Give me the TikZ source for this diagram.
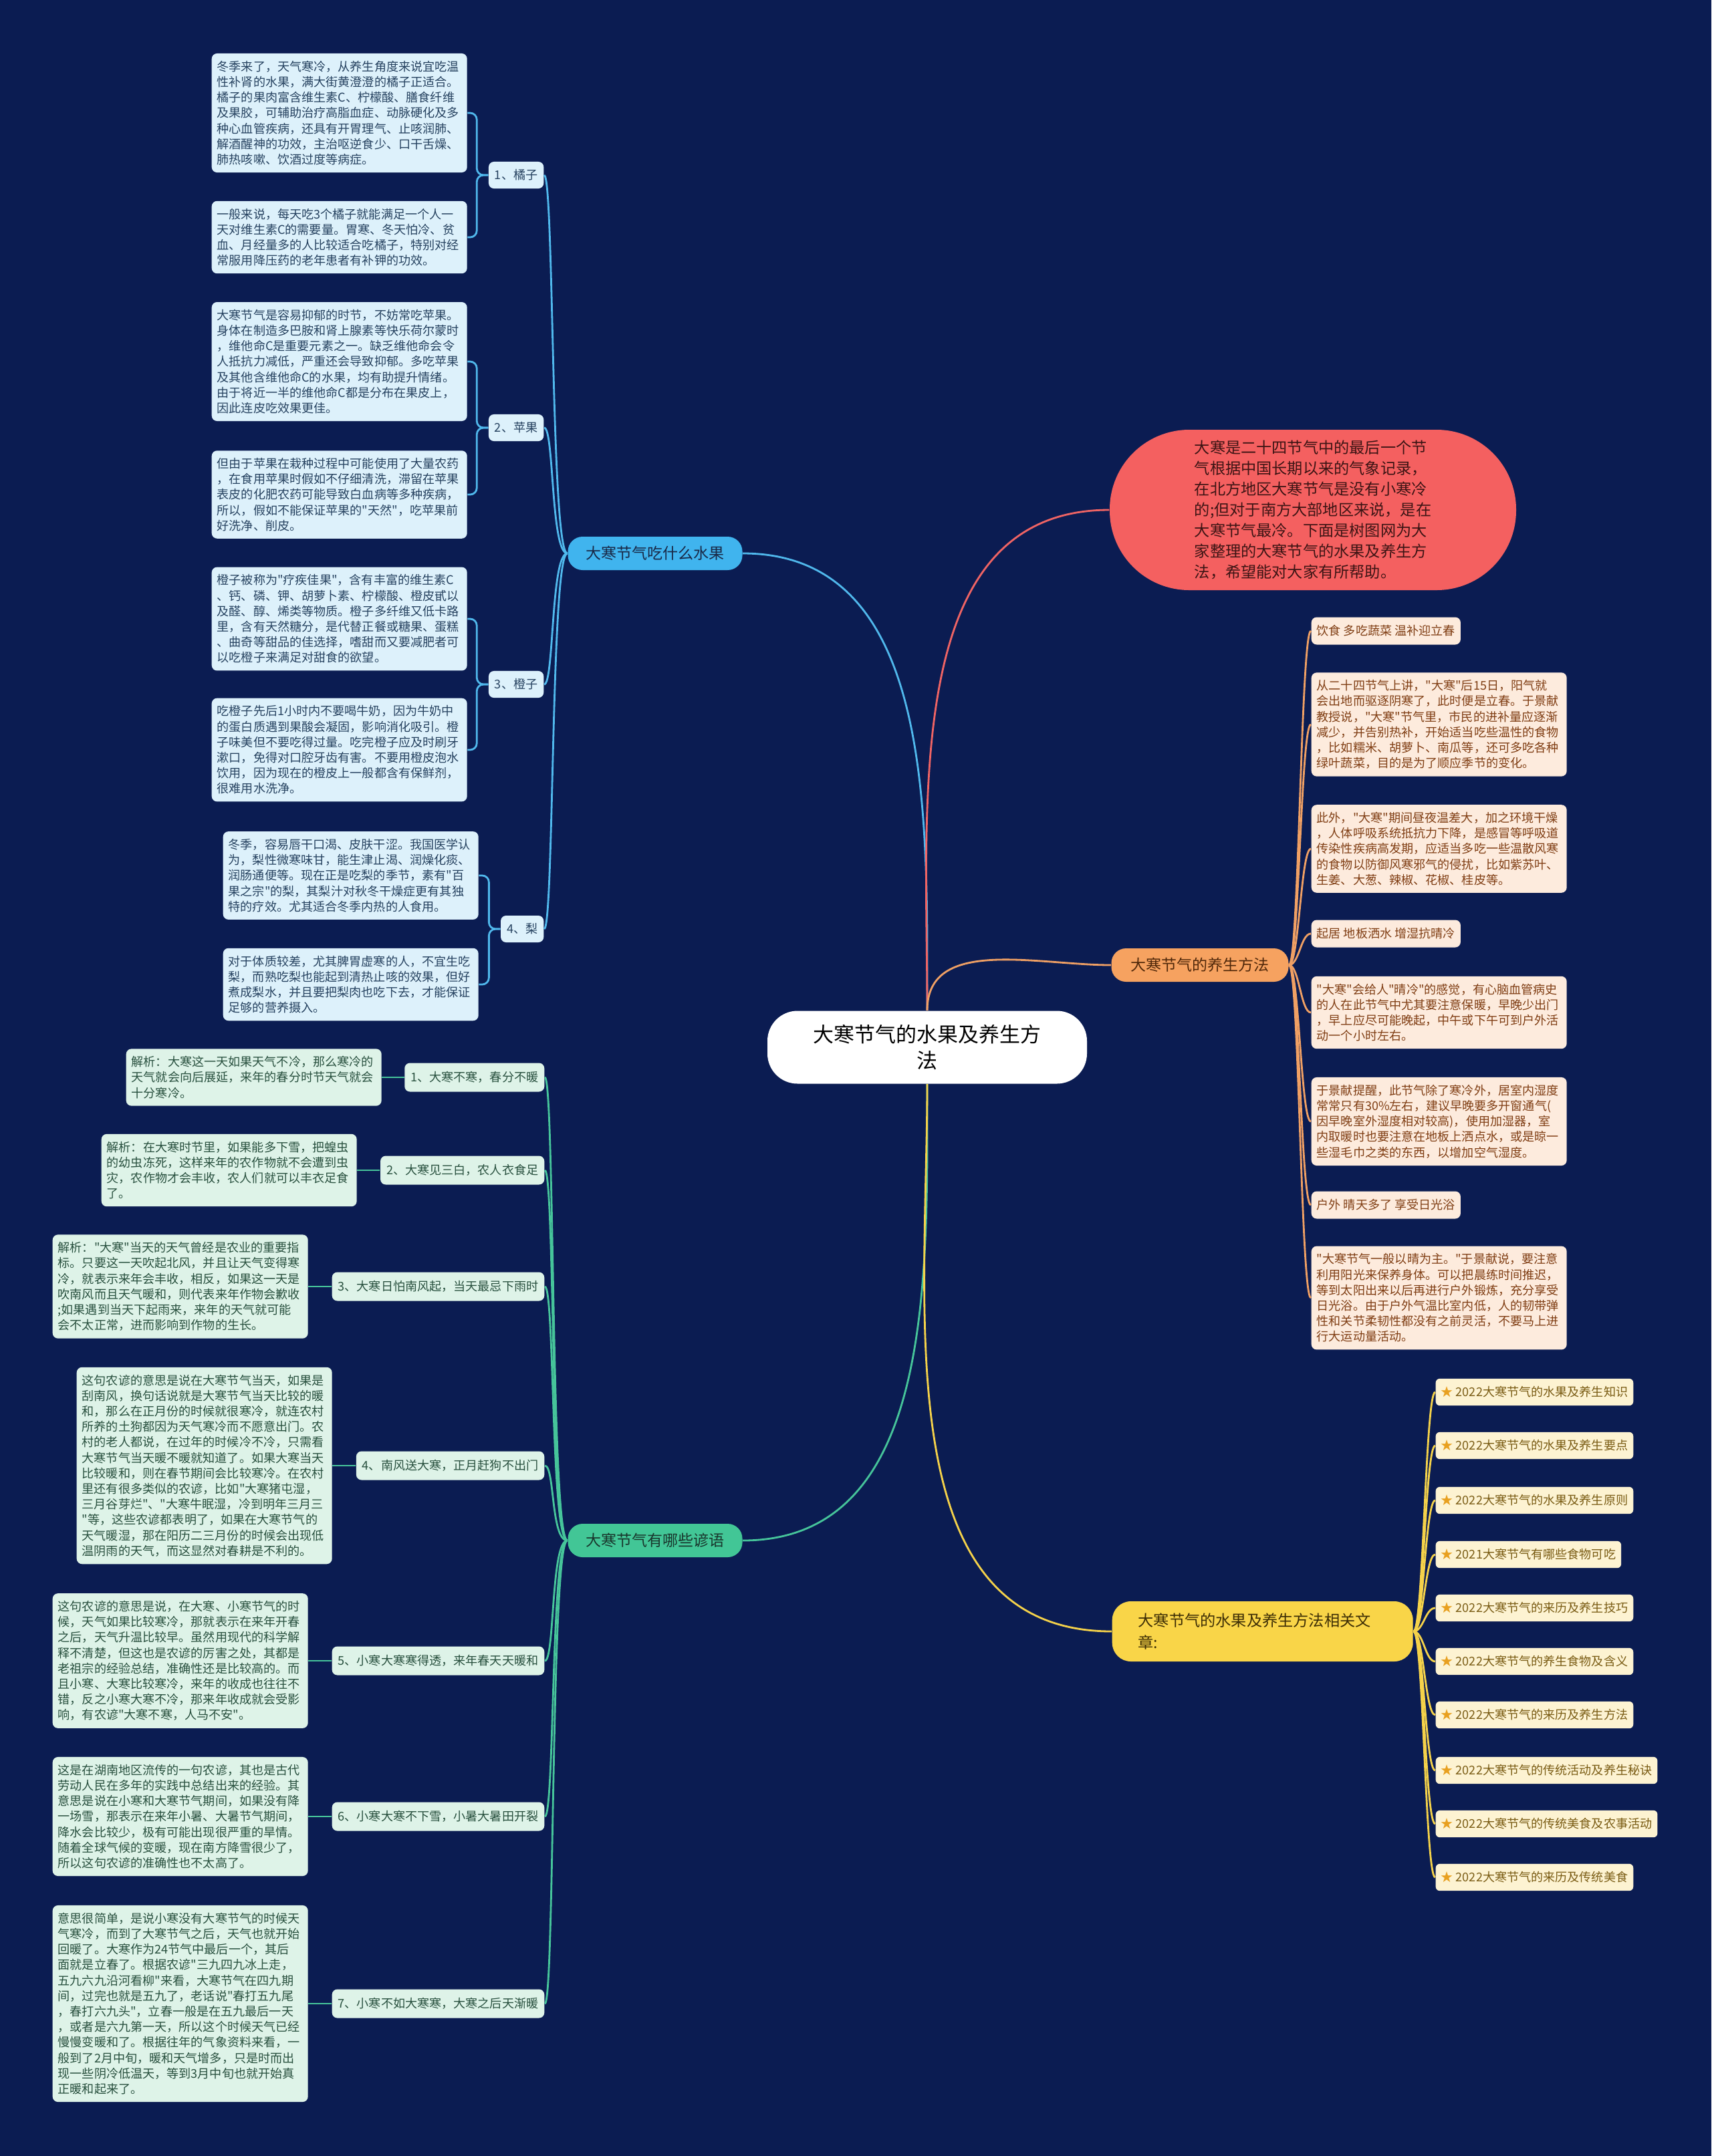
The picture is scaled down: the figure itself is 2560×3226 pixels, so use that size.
\documentclass[tikz,border=0pt]{standalone}
\usepackage{fontspec}
\setmainfont{Noto Sans CJK SC}[Ligatures=TeXOff]
\usetikzlibrary{calc}

\definecolor{bgnavy}{RGB}{11,28,82}
\definecolor{fruitbg}{RGB}{221,241,251}
\definecolor{fruitink}{RGB}{38,66,96}
\definecolor{fruitmain}{RGB}{64,180,238}
\definecolor{fruitline}{RGB}{80,184,236}
\definecolor{saybg}{RGB}{222,243,232}
\definecolor{sayink}{RGB}{40,80,62}
\definecolor{saymain}{RGB}{66,198,150}
\definecolor{sayline}{RGB}{70,196,154}
\definecolor{carebg}{RGB}{253,235,221}
\definecolor{careink}{RGB}{128,62,20}
\definecolor{caremain}{RGB}{246,162,96}
\definecolor{careline}{RGB}{240,160,100}
\definecolor{linkbg}{RGB}{253,243,210}
\definecolor{linkink}{RGB}{122,92,20}
\definecolor{linkmain}{RGB}{249,213,72}
\definecolor{linkline}{RGB}{245,210,74}
\definecolor{linkstar}{RGB}{232,160,32}
\definecolor{introbg}{RGB}{244,96,96}
\definecolor{introink}{RGB}{60,20,20}
\definecolor{introline}{RGB}{240,100,100}

\begin{document}
\begin{tikzpicture}[
  x=0.1mm, y=-0.1mm,
  body/.style={font=\fontsize{5.15pt}{6.6pt}\selectfont},
  fruitleaf/.style={body, fill=fruitbg, text=fruitink, rounded corners=0.8mm, inner xsep=0.8mm, inner ysep=1.1mm, text width=36.6mm, align=left, anchor=west},
  fruititem/.style={body, fill=fruitbg, text=fruitink, rounded corners=0.8mm, inner xsep=0.9mm, minimum height=4mm, anchor=east},
  sayleaf/.style={fruitleaf, fill=saybg, text=sayink},
  sayitem/.style={fruititem, fill=saybg, text=sayink, minimum height=4.3mm},
  careleaf/.style={fruitleaf, fill=carebg, text=careink},
  careitem/.style={body, fill=carebg, text=careink, rounded corners=0.8mm, inner xsep=0.8mm, minimum height=4.1mm, anchor=west},
  linkitem/.style={body, fill=linkbg, text=linkink, rounded corners=0.6mm, inner xsep=0.8mm, minimum height=3.6mm, anchor=west},
  branch/.style={font=\fontsize{6.55pt}{8pt}\selectfont, rounded corners=2.2mm, minimum height=5mm, minimum width=26.1mm},
  hub/.style={fill=white, text=black, rounded corners=4.5mm, minimum width=47.8mm, minimum height=10.9mm, align=center, font=\fontsize{8.8pt}{11pt}\selectfont},
  intro/.style={fill=introbg, text=introink, rounded corners=11.9mm, minimum width=60.8mm, minimum height=24mm, align=left, font=\fontsize{6.6pt}{8.8pt}\selectfont},
  fruitwire/.style={draw=fruitline, line width=0.8pt},
  saywire/.style={draw=sayline, line width=0.8pt},
  carewire/.style={draw=careline, line width=0.8pt},
  linkwire/.style={draw=linkline, line width=0.8pt},
  introwire/.style={draw=introline, line width=0.8pt},
  fan/.style={out=180, in=0, out distance=2.5mm, in distance=1.5mm},
  fanr/.style={out=0, in=180, out distance=1.5mm, in distance=1.5mm}
]
  \useasboundingbox (0,0) rectangle (2560,3226);
  \fill[bgnavy] (0,0) rectangle (2560,3226);

  % 中心与主干
  \node[hub] (hub) at (1387,1567) {大寒节气的水果及养生方\\法};
  \node[branch, fill=fruitmain, text={rgb,255:red,25;green,40;blue,70}] (fruit) at (980,828) {大寒节气吃什么水果};
  \node[branch, fill=saymain, text={rgb,255:red,25;green,55;blue,45}] (say) at (980,2305) {大寒节气有哪些谚语};
  \node[branch, fill=caremain, text={rgb,255:red,80;green,40;blue,10}, minimum width=26.5mm] (care) at (1795,1444) {大寒节气的养生方法};
  \node[branch, fill=linkmain, text={rgb,255:red,60;green,45;blue,5}, font=\fontsize{6.6pt}{9.3pt}\selectfont, rounded corners=2.8mm, minimum height=9mm, text width=37.2mm, inner xsep=3.9mm, align=left, anchor=west] (link) at (1663,2441) {大寒节气的水果及养生方法相关文\\章:};
  \node[intro] (note) at (1964,763) {大寒是二十四节气中的最后一个节\\气根据中国长期以来的气象记录，\\在北方地区大寒节气是没有小寒冷\\的;但对于南方大部地区来说，是在\\大寒节气最冷。下面是树图网为大\\家整理的大寒节气的水果及养生方\\法，希望能对大家有所帮助。};

  \draw[fruitwire] (hub.north) to[out=90,in=0] (fruit.east);
  \draw[introwire] (hub.north) to[out=90,in=180] (note.west);
  \draw[carewire] (hub.north) to[out=90,in=180] (care.west);
  \draw[saywire] (hub.south) to[out=-90,in=0] (say.east);
  \draw[linkwire] (hub.south) to[out=-90,in=180] (link.west);

  % 水果
  \node[fruititem] (f1) at (814,262) {1、橘子};
  \node[fruititem] (f2) at (814,640) {2、苹果};
  \node[fruititem] (f3) at (814,1024) {3、橙子};
  \node[fruititem] (f4) at (814,1390) {4、梨};

  \node[fruitleaf] (f1a) at (316,169) {冬季来了，天气寒冷，从养生角度来说宜吃温\\性补肾的水果，满大街黄澄澄的橘子正适合。\\橘子的果肉富含维生素C、柠檬酸、膳食纤维\\及果胶，可辅助治疗高脂血症、动脉硬化及多\\种心血管疾病，还具有开胃理气、止咳润肺、\\解酒醒神的功效，主治呕逆食少、口干舌燥、\\肺热咳嗽、饮酒过度等病症。};
  \node[fruitleaf] (f1b) at (316,355) {一般来说，每天吃3个橘子就能满足一个人一\\天对维生素C的需要量。胃寒、冬天怕冷、贫\\血、月经量多的人比较适合吃橘子，特别对经\\常服用降压药的老年患者有补钾的功效。};
  \node[fruitleaf] (f2a) at (316,541) {大寒节气是容易抑郁的时节，不妨常吃苹果。\\身体在制造多巴胺和肾上腺素等快乐荷尔蒙时\\，维他命C是重要元素之一。缺乏维他命会令\\人抵抗力减低，严重还会导致抑郁。多吃苹果\\及其他含维他命C的水果，均有助提升情绪。\\由于将近一半的维他命C都是分布在果皮上，\\因此连皮吃效果更佳。};
  \node[fruitleaf] (f2b) at (316,740) {但由于苹果在栽种过程中可能使用了大量农药\\，在食用苹果时假如不仔细清洗，滞留在苹果\\表皮的化肥农药可能导致白血病等多种疾病，\\所以，假如不能保证苹果的"天然"，吃苹果前\\好洗净、削皮。};
  \node[fruitleaf] (f3a) at (316,926) {橙子被称为"疗疾佳果"，含有丰富的维生素C\\、钙、磷、钾、胡萝卜素、柠檬酸、橙皮甙以\\及醛、醇、烯类等物质。橙子多纤维又低卡路\\里，含有天然糖分，是代替正餐或糖果、蛋糕\\、曲奇等甜品的佳选择，嗜甜而又要减肥者可\\以吃橙子来满足对甜食的欲望。};
  \node[fruitleaf] (f3b) at (316,1122) {吃橙子先后1小时内不要喝牛奶，因为牛奶中\\的蛋白质遇到果酸会凝固，影响消化吸引。橙\\子味美但不要吃得过量。吃完橙子应及时刷牙\\漱口，免得对口腔牙齿有害。不要用橙皮泡水\\饮用，因为现在的橙皮上一般都含有保鲜剂，\\很难用水洗净。};
  \node[fruitleaf] (f4a) at (333,1310) {冬季，容易唇干口渴、皮肤干涩。我国医学认\\为，梨性微寒味甘，能生津止渴、润燥化痰、\\润肠通便等。现在正是吃梨的季节，素有"百\\果之宗"的梨，其梨汁对秋冬干燥症更有其独\\特的疗效。尤其适合冬季内热的人食用。};
  \node[fruitleaf] (f4b) at (333,1473) {对于体质较差，尤其脾胃虚寒的人，不宜生吃\\梨，而熟吃梨也能起到清热止咳的效果，但好\\煮成梨水，并且要把梨肉也吃下去，才能保证\\足够的营养摄入。};

  \draw[fruitwire] (fruit.west) to[fan] (f1.east);
  \draw[fruitwire] (fruit.west) to[fan] (f2.east);
  \draw[fruitwire] (fruit.west) to[fan] (f3.east);
  \draw[fruitwire] (fruit.west) to[fan] (f4.east);
  \draw[fruitwire, rounded corners=1mm] (f1.west) -- ++(-17,0) |- (f1a.east);
  \draw[fruitwire, rounded corners=1mm] (f1.west) -- ++(-17,0) |- (f1b.east);
  \draw[fruitwire, rounded corners=1mm] (f2.west) -- ++(-17,0) |- (f2a.east);
  \draw[fruitwire, rounded corners=1mm] (f2.west) -- ++(-17,0) |- (f2b.east);
  \draw[fruitwire, rounded corners=1mm] (f3.west) -- ++(-17,0) |- (f3a.east);
  \draw[fruitwire, rounded corners=1mm] (f3.west) -- ++(-17,0) |- (f3b.east);
  \draw[fruitwire, rounded corners=1mm] (f4.west) -- ++(-17,0) |- (f4a.east);
  \draw[fruitwire, rounded corners=1mm] (f4.west) -- ++(-17,0) |- (f4b.east);

  % 谚语
  \node[sayitem] (s1) at (815,1612) {1、大寒不寒，春分不暖};
  \node[sayitem] (s2) at (815,1751) {2、大寒见三白，农人衣食足};
  \node[sayitem] (s3) at (815,1925) {3、大寒日怕南风起，当天最忌下雨时};
  \node[sayitem] (s4) at (815,2193) {4、南风送大寒，正月赶狗不出门};
  \node[sayitem] (s5) at (815,2485) {5、小寒大寒寒得透，来年春天天暖和};
  \node[sayitem] (s6) at (815,2718) {6、小寒大寒不下雪，小暑大暑田开裂};
  \node[sayitem] (s7) at (815,2998) {7、小寒不如大寒寒，大寒之后天渐暖};

  \node[sayleaf] (g1) at (188,1612) {解析：大寒这一天如果天气不冷，那么寒冷的\\天气就会向后展延，来年的春分时节天气就会\\十分寒冷。};
  \node[sayleaf] (g2) at (151,1751) {解析：在大寒时节里，如果能多下雪，把蝗虫\\的幼虫冻死，这样来年的农作物就不会遭到虫\\灾，农作物才会丰收，农人们就可以丰衣足食\\了。};
  \node[sayleaf] (g3) at (78,1925) {解析："大寒"当天的天气曾经是农业的重要指\\标。只要这一天吹起北风，并且让天气变得寒\\冷，就表示来年会丰收，相反，如果这一天是\\吹南风而且天气暖和，则代表来年作物会歉收\\;如果遇到当天下起雨来，来年的天气就可能\\会不太正常，进而影响到作物的生长。};
  \node[sayleaf] (g4) at (114,2193) {这句农谚的意思是说在大寒节气当天，如果是\\刮南风，换句话说就是大寒节气当天比较的暖\\和，那么在正月份的时候就很寒冷，就连农村\\所养的土狗都因为天气寒冷而不愿意出门。农\\村的老人都说，在过年的时候冷不冷，只需看\\大寒节气当天暖不暖就知道了。如果大寒当天\\比较暖和，则在春节期间会比较寒冷。在农村\\里还有很多类似的农谚，比如"大寒猪屯湿，\\三月谷芽烂"、"大寒牛眠湿，冷到明年三月三\\"等，这些农谚都表明了，如果在大寒节气的\\天气暖湿，那在阳历二三月份的时候会出现低\\温阴雨的天气，而这显然对春耕是不利的。};
  \node[sayleaf] (g5) at (78,2485) {这句农谚的意思是说，在大寒、小寒节气的时\\候，天气如果比较寒冷，那就表示在来年开春\\之后，天气升温比较早。虽然用现代的科学解\\释不清楚，但这也是农谚的厉害之处，其都是\\老祖宗的经验总结，准确性还是比较高的。而\\且小寒、大寒比较寒冷，来年的收成也往往不\\错，反之小寒大寒不冷，那来年收成就会受影\\响，有农谚"大寒不寒，人马不安"。};
  \node[sayleaf] (g6) at (78,2718) {这是在湖南地区流传的一句农谚，其也是古代\\劳动人民在多年的实践中总结出来的经验。其\\意思是说在小寒和大寒节气期间，如果没有降\\一场雪，那表示在来年小暑、大暑节气期间，\\降水会比较少，极有可能出现很严重的旱情。\\随着全球气候的变暖，现在南方降雪很少了，\\所以这句农谚的准确性也不太高了。};
  \node[sayleaf] (g7) at (78,2998) {意思很简单，是说小寒没有大寒节气的时候天\\气寒冷，而到了大寒节气之后，天气也就开始\\回暖了。大寒作为24节气中最后一个，其后\\面就是立春了。根据农谚"三九四九冰上走，\\五九六九沿河看柳"来看，大寒节气在四九期\\间，过完也就是五九了，老话说"春打五九尾\\，春打六九头"，立春一般是在五九最后一天\\，或者是六九第一天，所以这个时候天气已经\\慢慢变暖和了。根据往年的气象资料来看，一\\般到了2月中旬，暖和天气增多，只是时而出\\现一些阴冷低温天，等到3月中旬也就开始真\\正暖和起来了。};

  \draw[saywire] (say.west) to[fan] (s1.east);
  \draw[saywire] (say.west) to[fan] (s2.east);
  \draw[saywire] (say.west) to[fan] (s3.east);
  \draw[saywire] (say.west) to[fan] (s4.east);
  \draw[saywire] (say.west) to[fan] (s5.east);
  \draw[saywire] (say.west) to[fan] (s6.east);
  \draw[saywire] (say.west) to[fan] (s7.east);
  \draw[saywire] (s1.west) -- (g1.east);
  \draw[saywire] (s2.west) -- (g2.east);
  \draw[saywire] (s3.west) -- (g3.east);
  \draw[saywire] (s4.west) -- (g4.east);
  \draw[saywire] (s5.west) -- (g5.east);
  \draw[saywire] (s6.west) -- (g6.east);
  \draw[saywire] (s7.west) -- (g7.east);

  % 养生方法
  \node[careitem] (c1) at (1961,944) {饮食 多吃蔬菜 温补迎立春};
  \node[careleaf] (c2) at (1961,1084) {从二十四节气上讲，"大寒"后15日，阳气就\\会出地而驱逐阴寒了，此时便是立春。于景献\\教授说，"大寒"节气里，市民的进补量应逐渐\\减少，并告别热补，开始适当吃些温性的食物\\，比如糯米、胡萝卜、南瓜等，还可多吃各种\\绿叶蔬菜，目的是为了顺应季节的变化。};
  \node[careleaf] (c3) at (1961,1270) {此外，"大寒"期间昼夜温差大，加之环境干燥\\，人体呼吸系统抵抗力下降，是感冒等呼吸道\\传染性疾病高发期，应适当多吃一些温散风寒\\的食物以防御风寒邪气的侵扰，比如紫苏叶、\\生姜、大葱、辣椒、花椒、桂皮等。};
  \node[careitem] (c4) at (1961,1397) {起居 地板洒水 增湿抗晴冷};
  \node[careleaf] (c5) at (1961,1515) {"大寒"会给人"晴冷"的感觉，有心脑血管病史\\的人在此节气中尤其要注意保暖，早晚少出门\\，早上应尽可能晚起，中午或下午可到户外活\\动一个小时左右。};
  \node[careleaf] (c6) at (1961,1678) {于景献提醒，此节气除了寒冷外，居室内湿度\\常常只有30\%左右，建议早晚要多开窗通气(\\因早晚室外湿度相对较高)，使用加湿器，室\\内取暖时也要注意在地板上洒点水，或是晾一\\些湿毛巾之类的东西，以增加空气湿度。};
  \node[careitem] (c7) at (1961,1803) {户外 晴天多了 享受日光浴};
  \node[careleaf] (c8) at (1961,1942) {"大寒节气一般以晴为主。"于景献说，要注意\\利用阳光来保养身体。可以把晨练时间推迟，\\等到太阳出来以后再进行户外锻炼，充分享受\\日光浴。由于户外气温比室内低，人的韧带弹\\性和关节柔韧性都没有之前灵活，不要马上进\\行大运动量活动。};

  \draw[carewire] (care.east) to[fanr] (c1.west);
  \draw[carewire] (care.east) to[fanr] (c2.west);
  \draw[carewire] (care.east) to[fanr] (c3.west);
  \draw[carewire] (care.east) to[fanr] (c4.west);
  \draw[carewire] (care.east) to[fanr] (c5.west);
  \draw[carewire] (care.east) to[fanr] (c6.west);
  \draw[carewire] (care.east) to[fanr] (c7.west);
  \draw[carewire] (care.east) to[fanr] (c8.west);

  % 相关文章
  \node[linkitem] (l1) at (2147,2083) {\textcolor{linkstar}{★} 2022大寒节气的水果及养生知识};
  \node[linkitem] (l2) at (2147,2163) {\textcolor{linkstar}{★} 2022大寒节气的水果及养生要点};
  \node[linkitem] (l3) at (2147,2245) {\textcolor{linkstar}{★} 2022大寒节气的水果及养生原则};
  \node[linkitem] (l4) at (2147,2326) {\textcolor{linkstar}{★} 2021大寒节气有哪些食物可吃};
  \node[linkitem] (l5) at (2147,2406) {\textcolor{linkstar}{★} 2022大寒节气的来历及养生技巧};
  \node[linkitem] (l6) at (2147,2486) {\textcolor{linkstar}{★} 2022大寒节气的养生食物及含义};
  \node[linkitem] (l7) at (2147,2566) {\textcolor{linkstar}{★} 2022大寒节气的来历及养生方法};
  \node[linkitem] (l8) at (2147,2649) {\textcolor{linkstar}{★} 2022大寒节气的传统活动及养生秘诀};
  \node[linkitem] (l9) at (2147,2729) {\textcolor{linkstar}{★} 2022大寒节气的传统美食及农事活动};
  \node[linkitem] (l10) at (2147,2809) {\textcolor{linkstar}{★} 2022大寒节气的来历及传统美食};

  \draw[linkwire] (link.east) to[fanr] (l1.west);
  \draw[linkwire] (link.east) to[fanr] (l2.west);
  \draw[linkwire] (link.east) to[fanr] (l3.west);
  \draw[linkwire] (link.east) to[fanr] (l4.west);
  \draw[linkwire] (link.east) to[fanr] (l5.west);
  \draw[linkwire] (link.east) to[fanr] (l6.west);
  \draw[linkwire] (link.east) to[fanr] (l7.west);
  \draw[linkwire] (link.east) to[fanr] (l8.west);
  \draw[linkwire] (link.east) to[fanr] (l9.west);
  \draw[linkwire] (link.east) to[fanr] (l10.west);
\end{tikzpicture}
\end{document}
